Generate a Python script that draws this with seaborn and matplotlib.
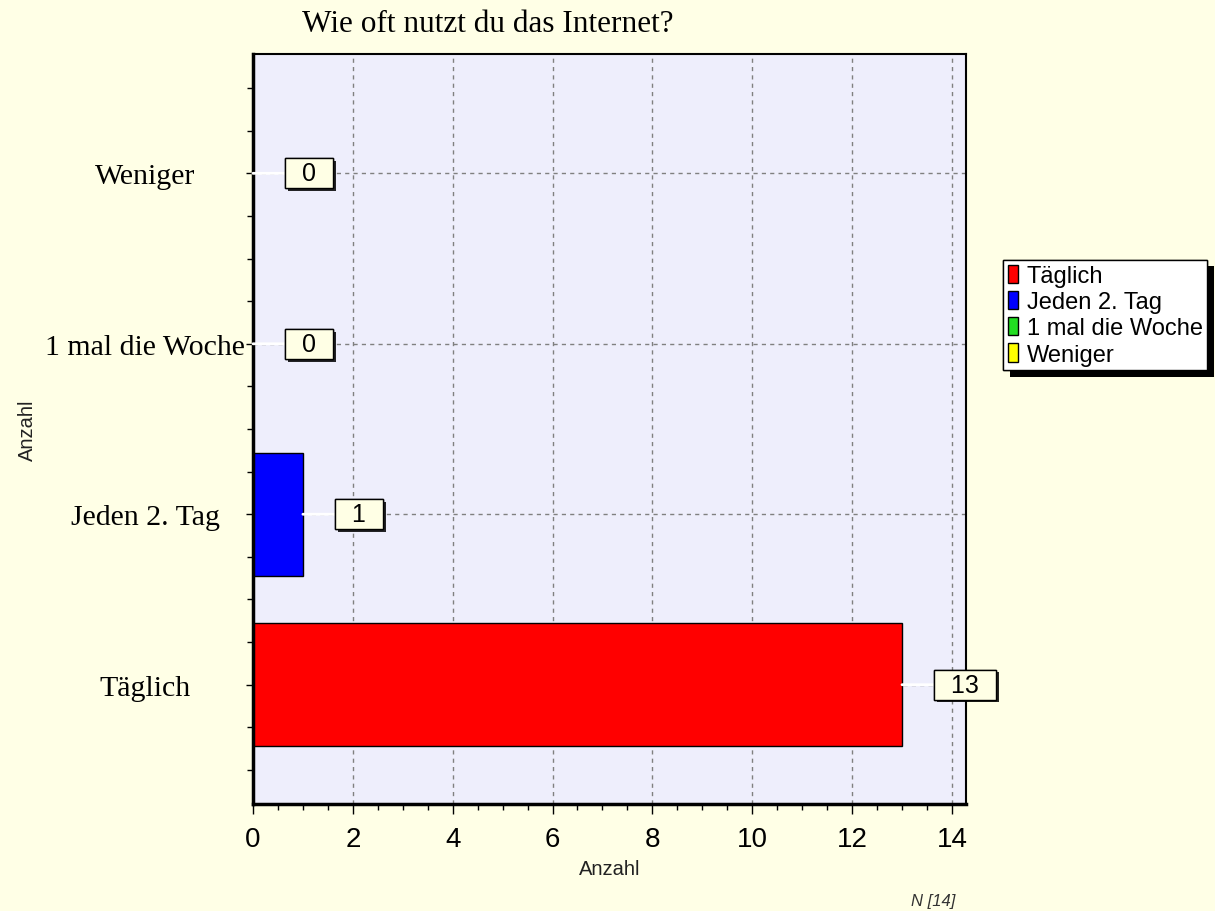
"""
Wie oft nutzt du das Internet? - horizontal bar chart of survey answers
"""

import numpy as np
import pandas as pd
import matplotlib.pyplot as plt
import matplotlib.patheffects as pe
from matplotlib.patches import Patch
from matplotlib.ticker import MultipleLocator
import seaborn as sns

# Data
categories = ['Weniger', '1 mal die Woche', 'Jeden 2. Tag', 'Täglich']
counts = [0, 0, 1, 13]
legend_order = ['Täglich', 'Jeden 2. Tag', '1 mal die Woche', 'Weniger']
bar_colors = {'Täglich': '#FF0000', 'Jeden 2. Tag': '#0000FF',
              '1 mal die Woche': '#22DD22', 'Weniger': '#FFFF00'}
n_total = 14

df = pd.DataFrame({'antwort': categories, 'anzahl': counts})

# Style
sns.set_style("white")
plt.rcParams['font.family'] = ['Liberation Sans', 'DejaVu Sans']
plt.rcParams['text.color'] = 'black'
plt.rcParams['xtick.labelcolor'] = 'black'
plt.rcParams['ytick.labelcolor'] = 'black'
SERIF = ['Liberation Serif', 'DejaVu Serif']
FIG_BG = '#FFFFE6'
AX_BG = '#EEEEFC'

fig = plt.figure(figsize=(12.15, 9.12), dpi=100, facecolor=FIG_BG)
ax = fig.add_axes([0.2082, 0.1173, 0.5868, 0.8224])
ax.set_facecolor(AX_BG)

sns.barplot(data=df, y='antwort', x='anzahl', hue='antwort', order=categories,
            palette=bar_colors, saturation=1, width=0.72, edgecolor='black',
            linewidth=1, legend=False, ax=ax)

# Axes limits and ticks
ax.set_xlim(0, 14.28)
ax.set_ylim(3.7, -0.7)
ax.xaxis.set_major_locator(MultipleLocator(2))
ax.xaxis.set_minor_locator(MultipleLocator(0.5))
ax.set_yticks(np.arange(len(categories)))
ax.yaxis.set_minor_locator(MultipleLocator(0.25))
ax.set_yticklabels(categories, fontfamily=SERIF, fontsize=21.5, ha='center')

ax.tick_params(axis='both', which='both', direction='out', color='black',
               left=True, bottom=True)
ax.tick_params(axis='y', which='major', length=5, width=1, pad=72.7)
ax.tick_params(axis='y', which='minor', length=4, width=1)
ax.tick_params(axis='x', which='major', length=7, width=1, pad=8.6, labelsize=20)
ax.tick_params(axis='x', which='minor', length=4, width=1)

# Grid
ax.set_axisbelow(True)
ax.grid(True, which='major', axis='both', linestyle=(0, (3, 3)), color='#808080', linewidth=1)

# Spines
for side in ['left', 'bottom']:
    ax.spines[side].set_linewidth(2.5)
    ax.spines[side].set_color('black')
for side in ['top', 'right']:
    ax.spines[side].set_linewidth(1.5)
    ax.spines[side].set_color('black')

# Axis labels
ax.set_xlabel('Anzahl', fontsize=14.5, color='#222222')
ax.xaxis.set_label_coords(0.5, -0.0733)
ax.set_ylabel('Anzahl', fontsize=14.5, color='#222222')
ax.yaxis.set_label_coords(-0.303, 0.5)

# Value boxes with white leader lines
for i, (cat, val) in enumerate(zip(categories, counts)):
    txt = ax.annotate(f'  {val}  ', xy=(val, i), xytext=(25.5, 0),
                      textcoords='offset points', ha='left', va='center',
                      fontsize=18, color='black', zorder=4,
                      bbox=dict(boxstyle='square,pad=0.12', facecolor='#FFFFE5',
                                edgecolor='black', linewidth=1),
                      arrowprops=dict(arrowstyle='-', color='white', lw=2,
                                      shrinkA=0, shrinkB=0))
    txt.get_bbox_patch().set_path_effects(
        [pe.withSimplePatchShadow(offset=(2, -2), shadow_rgbFace='black', alpha=0.85),
         pe.Normal()])

# Title
fig.suptitle('Wie oft nutzt du das Internet?', x=488 / 1215, y=1 - 25 / 912,
             ha='center', va='center', fontfamily=SERIF, fontsize=22.5)

# Legend
handles = [Patch(facecolor=bar_colors[c], edgecolor='black', linewidth=1, label=c)
           for c in legend_order]
leg = fig.legend(handles=handles, loc='upper left',
                 bbox_to_anchor=(1003 / 1215, 1 - 261 / 912),
                 fontsize=17, frameon=True, fancybox=False, framealpha=1,
                 facecolor='white', edgecolor='black',
                 handlelength=0.45, handleheight=0.8, handletextpad=0.35,
                 labelspacing=0.17, borderpad=0.2, borderaxespad=0)
leg.get_frame().set_linewidth(1)
leg.get_frame().set_path_effects(
    [pe.withSimplePatchShadow(offset=(5, -4.5), shadow_rgbFace='black', alpha=1),
     pe.Normal()])

# N
fig.text(933 / 1215, 1 - 902 / 912, f'N [{n_total}]', ha='center', va='center',
         fontsize=12, style='italic', color='#333333')

plt.savefig('out.png', dpi=100, facecolor=FIG_BG)
plt.close()
